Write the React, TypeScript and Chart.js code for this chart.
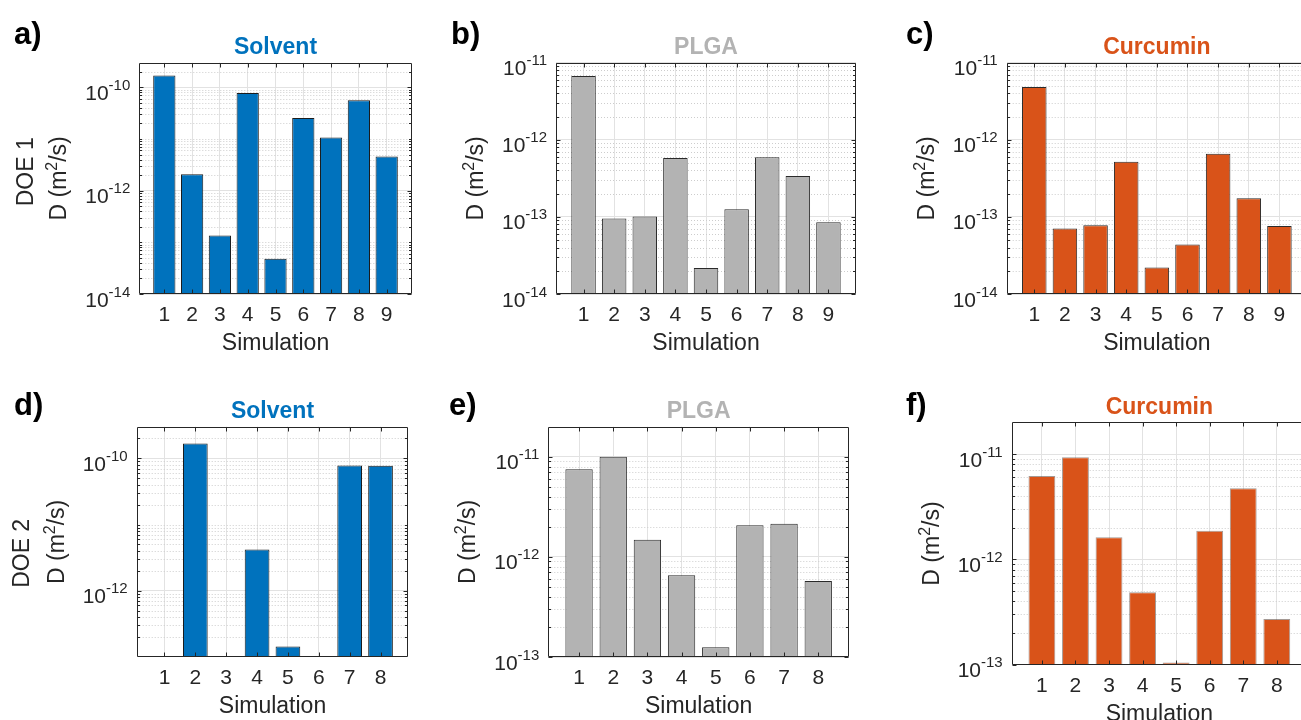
import React, { useEffect, useRef } from "react";
import { Chart, registerables } from "chart.js";

Chart.register(...registerables);

// ---------------- Data ----------------
const simulationsDOE1 = ["1", "2", "3", "4", "5", "6", "7", "8", "9"];
const simulationsDOE2 = ["1", "2", "3", "4", "5", "6", "7", "8"];

const solventDOE1 = [1.69e-10, 2.07e-12, 1.36e-13, 7.8e-11, 4.8e-14, 2.55e-11, 1.07e-11, 5.6e-11, 4.57e-12];
const plgaDOE1 = [6.7e-12, 9.5e-14, 1.01e-13, 5.8e-13, 2.18e-14, 1.26e-13, 5.95e-13, 3.38e-13, 8.5e-14];
const curcuminDOE1 = [4.83e-12, 7.07e-14, 7.8e-14, 5.2e-13, 2.2e-14, 4.4e-14, 6.6e-13, 1.75e-13, 7.6e-14];

const solventDOE2 = [null, 1.68e-10, null, 4.2e-12, 1.44e-13, null, 7.8e-11, 7.75e-11];
const plgaDOE2 = [7.5e-12, 1.0e-11, 1.48e-12, 6.56e-13, 1.25e-13, 2.07e-12, 2.15e-12, 5.76e-13];
const curcuminDOE2 = [6.18e-12, 9.3e-12, 1.62e-12, 4.86e-13, 1.05e-13, 1.87e-12, 4.72e-12, 2.71e-13];

const yTicksSolventDOE1 = [1e-14, 1e-12, 1e-10];
const yTicksDOE1 = [1e-14, 1e-13, 1e-12, 1e-11];
const yTicksSolventDOE2 = [1e-12, 1e-10];
const yTicksDOE2 = [1e-13, 1e-12, 1e-11];

const yRangeSolventDOE1 = [1e-14, 3e-10];
const yRangeDOE1 = [1e-14, 1e-11];
const yRangeSolventDOE2 = [1e-13, 3e-10];
const yRangeDOE2 = [1e-13, 2e-11];

// ---------------- Styles ----------------
const FONT = '"Liberation Sans", Arial, Helvetica, sans-serif';
const BLUE = "#0072BD";
const GRAY = "#B3B3B3";
const ORANGE = "#D95319";
const AXIS = "#262626";
const TEXT = "#262626";
const MAJOR_GRID = "#E2E2E2";
const MINOR_GRID = "#CDCDCD";

type Rect = { x: number; y: number; w: number; h: number };
type Plot = { l: number; r: number; t: number; b: number };
type PanelDef = {
  id: string;
  label: string;
  title: string;
  color: string;
  edge: string;
  cats: string[];
  values: (number | null)[];
  yRange: number[];
  yTicks: number[];
  doe?: string;
  canvas: Rect;
  plot: Plot;
  labelPos: { x: number; y: number };
  line1X?: number;
  line1Dy?: number;
};

const PANELS: PanelDef[] = [
  {
    id: "a", label: "a)", title: "Solvent", color: BLUE, edge: "#1c1c1c",
    cats: simulationsDOE1, values: solventDOE1, yRange: yRangeSolventDOE1, yTicks: yTicksSolventDOE1,
    doe: "DOE 1",
    canvas: { x: 0, y: 0, w: 440, h: 360 },
    plot: { l: 139.3, r: 411.7, t: 62.7, b: 294 },
    labelPos: { x: 14, y: 44 }, line1X: 106, line1Dy: -6.6,
  },
  {
    id: "b", label: "b)", title: "PLGA", color: GRAY, edge: "#2a2a2a",
    cats: simulationsDOE1, values: plgaDOE1, yRange: yRangeDOE1, yTicks: yTicksDOE1,
    canvas: { x: 440, y: 0, w: 440, h: 360 },
    plot: { l: 556, r: 856, t: 62.7, b: 294 },
    labelPos: { x: 451, y: 44 },
  },
  {
    id: "c", label: "c)", title: "Curcumin", color: ORANGE, edge: "#2a2a2a",
    cats: simulationsDOE1, values: curcuminDOE1, yRange: yRangeDOE1, yTicks: yTicksDOE1,
    canvas: { x: 880, y: 0, w: 440, h: 360 },
    plot: { l: 1006.7, r: 1307, t: 62.7, b: 294 },
    labelPos: { x: 906, y: 44 },
  },
  {
    id: "d", label: "d)", title: "Solvent", color: BLUE, edge: "#1c1c1c",
    cats: simulationsDOE2, values: solventDOE2, yRange: yRangeSolventDOE2, yTicks: yTicksSolventDOE2,
    doe: "DOE 2",
    canvas: { x: 0, y: 360, w: 440, h: 360 },
    plot: { l: 136.7, r: 408.3, t: 426.7, b: 657 },
    labelPos: { x: 14, y: 415 }, line1X: 108, line1Dy: 11.5,
  },
  {
    id: "e", label: "e)", title: "PLGA", color: GRAY, edge: "#2a2a2a",
    cats: simulationsDOE2, values: plgaDOE2, yRange: yRangeDOE2, yTicks: yTicksDOE2,
    canvas: { x: 440, y: 360, w: 440, h: 360 },
    plot: { l: 548.3, r: 849, t: 426.7, b: 657 },
    labelPos: { x: 449, y: 415 },
  },
  {
    id: "f", label: "f)", title: "Curcumin", color: ORANGE, edge: "rgba(90,70,60,0.55)",
    cats: simulationsDOE2, values: curcuminDOE2, yRange: yRangeDOE2, yTicks: yTicksDOE2,
    canvas: { x: 880, y: 360, w: 440, h: 360 },
    plot: { l: 1011.7, r: 1307, t: 422.3, b: 664.7 },
    labelPos: { x: 906, y: 415 },
  },
];

function sameLog(a: number, b: number) {
  return Math.abs(Math.log10(a) - Math.log10(b)) < 1e-9;
}

function minorValues(p: PanelDef): number[] {
  const [mn, mx] = p.yRange;
  const out: number[] = [];
  const k0 = Math.floor(Math.log10(mn));
  const k1 = Math.ceil(Math.log10(mx));
  for (let k = k0; k <= k1; k++) {
    for (let m = 1; m <= 9; m++) {
      const v = m * Math.pow(10, k);
      if (v <= mn * 1.0000001 || v >= mx * 0.9999999) continue;
      if (p.yTicks.some((t) => sameLog(t, v))) continue;
      out.push(v);
    }
  }
  return out;
}

type Seg = { t: string; size: number; rise?: number };

function drawRotated(ctx: CanvasRenderingContext2D, segs: Seg[], baseX: number, centerY: number) {
  ctx.save();
  ctx.translate(baseX, centerY);
  ctx.rotate(-Math.PI / 2);
  let total = 0;
  const widths = segs.map((s) => {
    ctx.font = `${s.size}px ${FONT}`;
    const w = ctx.measureText(s.t).width;
    total += w;
    return w;
  });
  let x = -total / 2;
  ctx.textAlign = "left";
  ctx.textBaseline = "alphabetic";
  segs.forEach((s, i) => {
    ctx.font = `${s.size}px ${FONT}`;
    ctx.fillText(s.t, x, -(s.rise || 0));
    x += widths[i];
  });
  ctx.restore();
}

function makeDecor(p: PanelDef) {
  const ox = p.canvas.x;
  const oy = p.canvas.y;
  const minors = minorValues(p);
  return {
    id: "decor_" + p.id,
    beforeDatasetsDraw(chart: any) {
      const { ctx, chartArea: a } = chart;
      const ys = chart.scales.y;
      ctx.save();
      ctx.beginPath();
      ctx.rect(a.left, a.top, a.right - a.left, a.bottom - a.top);
      ctx.clip();
      ctx.strokeStyle = MINOR_GRID;
      ctx.lineWidth = 1;
      ctx.setLineDash([1, 2]);
      ctx.beginPath();
      minors.forEach((v) => {
        const y = Math.round(ys.getPixelForValue(v)) + 0.5;
        ctx.moveTo(a.left, y);
        ctx.lineTo(a.right, y);
      });
      ctx.stroke();
      ctx.restore();
    },
    afterDatasetsDraw(chart: any) {
      const { ctx, chartArea: a } = chart;
      const xs = chart.scales.x;
      const ys = chart.scales.y;
      const L = Math.round(a.left) + 0.5;
      const R = Math.round(a.right) - 0.5;
      const T = Math.round(a.top) + 0.5;
      const B = Math.round(a.bottom) - 0.5;
      ctx.save();
      ctx.strokeStyle = AXIS;
      ctx.lineWidth = 1;
      ctx.setLineDash([]);
      ctx.beginPath();
      ctx.moveTo(L, T);
      ctx.lineTo(R, T);
      ctx.lineTo(R, B);
      ctx.lineTo(L, B);
      ctx.closePath();
      p.cats.forEach((_, i) => {
        const x = Math.round(xs.getPixelForValue(i + 1)) + 0.5;
        ctx.moveTo(x, B);
        ctx.lineTo(x, B - 4);
        ctx.moveTo(x, T);
        ctx.lineTo(x, T + 4);
      });
      p.yTicks.forEach((v) => {
        const y = Math.round(ys.getPixelForValue(v)) + 0.5;
        ctx.moveTo(L, y);
        ctx.lineTo(L + 4, y);
        ctx.moveTo(R, y);
        ctx.lineTo(R - 4, y);
      });
      minors.forEach((v) => {
        const y = Math.round(ys.getPixelForValue(v)) + 0.5;
        ctx.moveTo(L, y);
        ctx.lineTo(L + 2.5, y);
        ctx.moveTo(R, y);
        ctx.lineTo(R - 2.5, y);
      });
      ctx.stroke();
      ctx.restore();
    },
    afterDraw(chart: any) {
      const { ctx, chartArea: a } = chart;
      const xs = chart.scales.x;
      const ys = chart.scales.y;
      const cx = (a.left + a.right) / 2;
      const cy = (a.top + a.bottom) / 2;
      ctx.save();
      ctx.textBaseline = "alphabetic";

      // panel letter
      ctx.fillStyle = "#000";
      ctx.font = `bold 31px ${FONT}`;
      ctx.textAlign = "left";
      ctx.fillText(p.label, p.labelPos.x - ox, p.labelPos.y - oy);

      // title
      ctx.fillStyle = p.color;
      ctx.font = `bold 23px ${FONT}`;
      ctx.textAlign = "center";
      ctx.fillText(p.title, cx, a.top - 8.5);

      // x tick labels
      ctx.fillStyle = TEXT;
      ctx.font = `21px ${FONT}`;
      ctx.textAlign = "center";
      p.cats.forEach((c, i) => {
        ctx.fillText(c, xs.getPixelForValue(i + 1), a.bottom + 27);
      });

      // x title
      ctx.font = `23px ${FONT}`;
      ctx.fillText("Simulation", cx, a.bottom + 56);

      // y tick labels 10^k
      ctx.textAlign = "left";
      p.yTicks.forEach((v) => {
        const y = ys.getPixelForValue(v);
        const e = String(Math.round(Math.log10(v)));
        ctx.font = `21px ${FONT}`;
        const w10 = ctx.measureText("10").width;
        ctx.font = `15px ${FONT}`;
        const we = ctx.measureText(e).width;
        const xr = a.left - 9;
        ctx.font = `21px ${FONT}`;
        ctx.fillText("10", xr - we - w10, y + 12.5);
        ctx.font = `15px ${FONT}`;
        ctx.fillText(e, xr - we, y + 2.5);
      });

      // y titles
      ctx.fillStyle = TEXT;
      drawRotated(
        ctx,
        [
          { t: "D (m", size: 23 },
          { t: "2", size: 16, rise: 9 },
          { t: "/s)", size: 23 },
        ],
        a.left - 73,
        cy
      );
      if (p.doe) {
        drawRotated(ctx, [{ t: p.doe, size: 23 }], a.left - (p.line1X || 106), cy + (p.line1Dy || 0));
      }
      ctx.restore();
    },
  };
}

function Panel({ p }: { p: PanelDef }) {
  const ref = useRef<HTMLCanvasElement>(null);
  useEffect(() => {
    const canvas = ref.current;
    if (!canvas) return;
    const n = p.cats.length;
    const chart = new Chart(canvas, {
      type: "bar",
      data: {
        datasets: [
          {
            label: p.title,
            data: p.values.map((v, i) => ({ x: i + 1, y: v })) as any,
            backgroundColor: p.color,
            borderColor: p.edge,
            borderWidth: 1,
            barPercentage: 0.8,
            categoryPercentage: 1,
          },
        ],
      },
      options: {
        responsive: false,
        animation: false,
        events: [],
        layout: {
          autoPadding: false,
          padding: {
            left: p.plot.l - p.canvas.x,
            top: p.plot.t - p.canvas.y,
            right: p.canvas.x + p.canvas.w - p.plot.r,
            bottom: p.canvas.y + p.canvas.h - p.plot.b,
          },
        },
        plugins: {
          legend: { display: false },
          tooltip: { enabled: false },
          title: { display: false },
        },
        scales: {
          x: {
            type: "linear",
            min: 0.1,
            max: n + 0.9,
            bounds: "data",
            offset: false,
            afterBuildTicks: (s: any) => {
              s.ticks = p.cats.map((_, i) => ({ value: i + 1 }));
            },
            afterFit: (s: any) => {
              s.height = 0;
            },
            ticks: { display: false },
            grid: { offset: false, color: MAJOR_GRID, lineWidth: 1, drawTicks: false },
            border: { display: false },
          },
          y: {
            type: "logarithmic",
            min: p.yRange[0],
            max: p.yRange[1],
            bounds: "data",
            afterBuildTicks: (s: any) => {
              s.ticks = p.yTicks.map((v) => ({ value: v }));
            },
            afterFit: (s: any) => {
              s.width = 0;
            },
            ticks: { display: false },
            grid: { color: MAJOR_GRID, lineWidth: 1, drawTicks: false },
            border: { display: false },
          },
        } as any,
      },
      plugins: [makeDecor(p)],
    } as any);
    return () => chart.destroy();
  }, [p]);
  return (
    <canvas
      ref={ref}
      width={p.canvas.w}
      height={p.canvas.h}
      style={{
        position: "absolute",
        left: p.canvas.x,
        top: p.canvas.y,
        width: p.canvas.w,
        height: p.canvas.h,
      }}
    />
  );
}

export default function App() {
  return (
    <div
      style={{
        position: "fixed",
        left: 0,
        top: 0,
        width: "100vw",
        height: "100vh",
        overflow: "hidden",
        background: "#ffffff",
      }}
    >
      {PANELS.map((p) => (
        <Panel key={p.id} p={p} />
      ))}
    </div>
  );
}
